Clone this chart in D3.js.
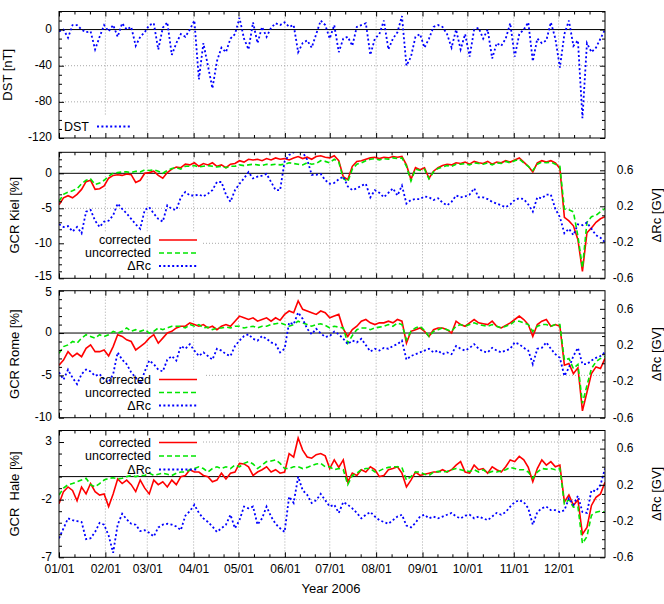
<!DOCTYPE html>
<html><head><meta charset="utf-8">
<script src="https://cdn.jsdelivr.net/npm/d3@7"></script>
<style>
body{margin:0;background:#fff;}
text{font-family:"Liberation Sans",Arial,Helvetica,sans-serif;fill:#000;}
</style></head><body>
<svg id="c" width="664" height="604"></svg>
<script>
// ---------------- data (one sample every ~3 days of 2006) ----------------
const monthTickLabels = ["01/01","02/01","03/01","04/01","05/01","06/01","07/01","08/01","09/01","10/01","11/01","12/01"];

const dstNT = [-2,0,-9,5,5,0,-3,-2,-22,-8,
 5,-2,5,-8,7,0,3,-18,-8,-3,
 5,7,-22,2,8,-28,-15,-5,-8,0,
 10,-55,-15,-40,-65,-35,-20,-25,-10,-5,
 13,-10,-22,8,-15,3,-8,2,7,5,
 8,3,5,-25,-15,-12,-20,-5,10,5,
 -10,5,-25,-10,-8,-18,3,5,7,-28,
 -10,-5,10,-22,-10,-3,15,-40,-30,-8,
 -5,-20,-10,3,5,3,-5,-20,0,-22,
 -5,-30,0,2,-10,0,-32,-15,-18,-10,
 7,-30,-5,0,8,-35,-10,-15,-12,8,
 -10,-42,-5,10,-18,-12,-98,-15,-25,-20,
 -10,0];

const kielCorrected = [-4.5,-3.5,-3.2,-3.5,-3.0,-2.3,-1.2,-1.0,-2.3,-2.2,
 -1.8,-0.7,-0.3,-0.2,-0.3,-0.1,-0.2,-1.3,-1.0,0,
 0.1,0.3,-0.3,-0.7,0.1,0.6,0.9,0.8,1.3,1.2,
 1.5,1.0,1.4,1.2,1.5,1.0,1.2,0.8,1.3,1.4,
 1.8,1.6,2.0,1.9,2.0,1.8,2.1,1.9,2.2,2.0,
 2.1,1.9,2.2,2.4,2.1,2.3,2.0,2.4,2.5,2.3,
 2.2,2.5,1.8,-0.5,-0.9,1.0,1.7,1.8,2.0,2.2,
 2.3,2.1,2.3,2.2,2.4,2.3,2.4,1.2,-0.9,0.8,
 0.5,0.8,-0.7,0.3,0.8,1.1,1.3,1.2,1.5,1.4,
 1.6,1.3,1.7,1.5,1.4,1.7,1.3,1.6,1.5,1.8,
 1.6,1.9,2.2,1.6,1.0,0.2,1.5,1.8,1.6,1.8,
 1.5,0.7,-6.3,-6.8,-7.5,-9.5,-14,-8.5,-7.8,-7.0,
 -6.5,-6.2];

const kielUncorrected = [-4.0,-3.0,-2.7,-2.5,-2.2,-1.5,-1.0,-0.8,-1.6,-1.4,
 -1.0,-0.4,0,0.1,0.2,0.2,0.1,0.3,0.2,0.5,
 0.4,0.5,0.3,0,0.4,0.7,0.8,0.6,1.0,1.0,
 1.1,0.9,1.0,1.1,1.0,0.9,1.0,0.8,1.0,1.0,
 1.2,1.1,1.2,1.3,1.2,1.1,1.3,1.2,1.3,1.2,
 1.3,1.5,1.4,1.3,1.2,1.5,1.3,1.4,1.8,1.7,
 1.5,2.0,1.6,-0.7,-1.2,0.6,1.3,1.5,1.8,2.0,
 2.1,1.9,2.1,2.0,2.2,2.1,2.2,1.0,-1.1,0.6,
 0.4,0.6,-0.8,0.2,0.7,0.9,1.1,1.0,1.3,1.3,
 1.4,1.2,1.5,1.4,1.3,1.5,1.2,1.5,1.4,1.7,
 1.5,1.8,2.0,1.5,1.0,0.4,1.3,1.6,1.5,1.6,
 1.3,1.0,-5.1,-5.2,-5.5,-9.0,-13.5,-7.0,-6.2,-6.0,
 -5.5,-5.0];

const kielDeltaRc = [0.0,-0.03,-0.02,-0.08,-0.03,-0.1,0.14,0.16,0.04,-0.03,
 0.03,0.04,0.1,0.23,0.17,0.12,0.06,0.0,-0.05,0.16,
 0.19,0.12,0.06,0.03,0.21,0.17,0.16,0.3,0.36,0.32,
 0.32,0.33,0.31,0.34,0.38,0.47,0.47,0.33,0.25,0.38,
 0.45,0.51,0.58,0.51,0.53,0.54,0.56,0.47,0.38,0.38,
 0.7,0.77,0.8,0.82,0.8,0.72,0.55,0.55,0.56,0.49,
 0.45,0.46,0.5,0.53,0.42,0.38,0.4,0.43,0.45,0.3,
 0.38,0.35,0.3,0.35,0.4,0.32,0.43,0.23,0.27,0.28,
 0.28,0.31,0.3,0.27,0.29,0.24,0.21,0.25,0.32,0.3,
 0.31,0.33,0.4,0.3,0.3,0.28,0.25,0.23,0.21,0.19,
 0.22,0.27,0.29,0.28,0.22,0.14,0.3,0.29,0.33,0.33,
 0.17,0.08,-0.1,-0.05,-0.12,0.0,-0.01,0.02,-0.05,-0.12,
 -0.15,-0.2];

const romeCorrected = [-3.8,-3.2,-2.2,-2.8,-2.4,-2.8,-1.8,-1.4,-2.2,-2.2,
 -2.0,-2.7,-1.6,-0.2,-0.4,-0.8,-1.0,-2.0,-1.6,-1.2,
 -0.6,-0.2,-1.2,-0.6,0,0.2,0.6,0.8,0.8,1.2,
 1.0,0.8,1.0,0.6,0.8,0.4,0.8,1.0,0.8,1.4,
 2.0,1.8,1.6,1.8,1.4,1.6,1.8,1.4,1.8,1.5,
 2.2,2.6,2.4,3.8,2.8,2.6,2.4,2.2,2.6,2.4,
 1.8,2.0,2.2,0.5,-0.4,0.4,0.8,1.4,1.6,1.2,
 1.0,1.2,1.2,1.4,1.2,1.6,1.4,-1.2,0.2,0.4,
 0.6,0.2,-0.4,0.4,0.6,0.6,0.4,0.0,1.4,1.0,
 0.8,1.2,1.6,1.2,1.1,1.0,1.4,0.8,0.6,0.9,
 1.2,1.6,2.0,1.6,1.0,-0.4,1.0,1.4,1.6,0.8,
 1.0,0.8,-3.8,-3.6,-4.8,-4.1,-9.2,-7.0,-4.8,-4.0,
 -4.2,-3.0];

const romeUncorrected = [-2.4,-1.6,-1.4,-1.0,-1.2,-0.6,-0.2,-0.4,-0.6,-0.2,
 -0.4,-0.2,0.2,0,0.2,0.6,0.2,0.4,0.2,0.4,
 0,0.2,0.6,0.4,0.6,0.8,0.8,0.8,0.6,1.0,
 0.8,1.0,0.6,0.7,0.4,0.6,0.6,0.7,0.6,0.8,
 0.8,0.6,0.7,0.8,0.6,0.8,0.8,1.0,1.1,1.2,
 1.0,0.8,1.0,1.4,1.2,1.0,0.8,1.0,1.1,0.9,
 0.6,0.8,0.7,0.6,-1.2,-0.3,0.4,0.6,0.6,0.4,
 0.6,0.7,0.8,1.0,0.8,1.2,1.0,-0.8,0.2,0.6,
 0.8,0.3,-0.4,0.2,0.4,0.6,0.4,0.2,0.8,1.0,
 0.8,1.0,1.2,1.0,0.9,0.8,1.0,0.8,0.6,0.8,
 1.0,1.4,1.4,1.2,1.0,0.2,0.8,1.0,1.0,0.8,
 1.0,1.0,-3.2,-3.0,-4.2,-3.7,-8.3,-6.2,-4.2,-3.4,
 -3.0,-2.8];

const romeDeltaRc = [-0.1,-0.18,-0.07,-0.16,-0.23,-0.12,-0.07,-0.09,-0.14,-0.12,
 -0.18,-0.21,-0.12,0.12,0.04,-0.01,-0.1,-0.16,-0.23,-0.09,
 0.03,-0.01,-0.07,-0.09,0.04,0.08,0.03,0.19,0.16,0.21,
 0.14,0.08,0.12,0.08,0.04,0.16,0.14,0.1,0.08,0.19,
 0.25,0.3,0.32,0.27,0.25,0.3,0.27,0.23,0.21,0.12,
 0.16,0.45,0.43,0.56,0.49,0.38,0.32,0.38,0.33,0.29,
 0.3,0.35,0.32,0.27,0.21,0.25,0.23,0.27,0.2,0.13,
 0.16,0.14,0.17,0.16,0.19,0.21,0.25,0.04,0.08,0.1,
 0.12,0.14,0.16,0.12,0.14,0.1,0.12,0.1,0.19,0.16,
 0.14,0.17,0.21,0.16,0.13,0.12,0.17,0.14,0.12,0.14,
 0.16,0.23,0.21,0.17,0.14,-0.01,0.16,0.17,0.23,0.16,
 0.1,0.06,-0.14,-0.05,0.08,0.17,-0.01,-0.01,0.03,0.06,
 0.08,0.12];

const haleCorrected = [-2.35,-1.3,-0.9,-1.2,-2.1,-0.9,-1.5,-0.6,-1.3,-1.6,
 -1.5,-2.6,-1.5,-0.2,-0.6,-0.3,-0.7,-1.3,-0.3,-1.0,
 -1.5,-0.3,-0.7,-0.45,-0.9,-0.3,-0.7,0,0.1,0.6,
 0.4,0.4,0.1,0,-0.45,-0.3,0.3,-0.2,0.3,0.4,
 1.15,1.1,0.85,0.1,0.4,0.6,0.85,0.4,0.6,0.3,
 0.4,2.0,1.7,3.35,2.3,1.7,1.6,1.9,2.0,1.8,
 0.7,1.45,0.8,1.45,-0.45,0.3,0.1,0.6,0.4,0.85,
 0.6,0.0,0.1,0.6,0.7,0.85,0.3,-0.9,-0.3,0.4,
 0.1,0.2,0.3,0.4,0.4,0.6,0.4,0.6,1.0,1.3,
 0.4,0.3,1.0,0.6,0.7,0.3,0.85,0.6,0.4,0.85,
 1.45,1.3,1.75,1.45,0.8,-0.45,0.7,1.45,1.0,1.3,
 0.85,1.0,-2.2,-1.6,-2.5,-2.0,-5.0,-4.4,-2.5,-1.8,
 -1.5,-0.5];

const haleUncorrected = [-1.6,-1.0,-0.7,-0.6,-0.45,-0.3,-0.15,-0.7,-0.9,-0.6,
 -0.3,-0.15,-0.1,-0.2,-0.15,0,0.1,0,0.1,0.1,
 0.3,0.1,0.2,0.3,0.2,0.1,0.3,0.4,0.4,0.6,
 0.7,0.85,0.7,0.4,0.7,0.85,0.7,0.85,0.7,1.0,
 0.85,1.15,1.3,1.1,0.7,1.0,1.3,1.35,1.45,1.15,
 0.7,0.7,0.85,0.85,0.7,0.8,0.95,1.1,1.15,0.85,
 0.85,0.6,0.7,0.6,-0.7,0.1,0.3,0.6,0.7,0.7,
 0.4,0.5,0.7,0.8,0.85,0.85,0.8,-0.3,0.0,0.4,
 0.4,0.2,0.1,0.4,0.45,0.4,0.45,0.6,0.7,0.6,
 0.5,0.45,0.6,0.4,0.6,0.3,0.45,0.4,0.5,0.6,
 0.8,0.7,0.6,0.6,0.4,-0.15,0.4,0.7,0.65,0.7,
 0.6,0.7,-2.35,-2.0,-2.65,-2.6,-5.8,-5.2,-3.35,-3.1,
 -3.0,-3.1];

const haleDeltaRc = [-0.39,-0.28,-0.17,-0.19,-0.2,-0.21,-0.4,-0.39,-0.32,-0.22,
 -0.24,-0.36,-0.55,-0.24,-0.12,-0.18,-0.23,-0.24,-0.31,-0.3,
 -0.33,-0.37,-0.27,-0.24,-0.23,-0.24,-0.26,-0.3,-0.14,-0.09,
 -0.02,-0.11,-0.17,-0.21,-0.26,-0.32,-0.28,-0.24,-0.13,-0.28,
 -0.19,-0.04,-0.06,-0.04,-0.24,-0.17,-0.04,-0.15,-0.23,-0.28,
 -0.32,0.07,0.0,0.29,0.14,0.09,0.0,0.03,0.1,0.03,
 -0.04,-0.02,-0.11,0.01,-0.02,-0.06,-0.11,-0.17,-0.13,-0.1,
 -0.15,-0.19,-0.21,-0.23,-0.19,-0.15,-0.13,-0.25,-0.27,-0.22,
 -0.15,-0.13,-0.17,-0.15,-0.17,-0.15,-0.13,-0.11,-0.15,-0.17,
 -0.14,-0.13,-0.17,-0.15,-0.17,-0.19,-0.15,-0.11,-0.13,-0.1,
 -0.04,0.01,0.03,0.01,-0.06,-0.24,-0.1,-0.06,-0.04,-0.08,
 -0.08,-0.1,-0.08,0.05,-0.02,0.08,-0.1,-0.11,0.14,0.13,
 0.2,0.38];

// ---------------- chart ----------------
const svg = d3.select("#c");
const L = 59, R = 605;
const t0 = Date.UTC(2006,0,1), t1 = Date.UTC(2007,0,1);
const x = d3.scaleUtc().domain([new Date(t0), new Date(t1)]).range([L, R]);
const STEP = 365/121;
const dates = dstNT.map((_, i) => new Date(t0 + i*STEP*86400000));
const monthStarts = d3.utcMonths(new Date(t0), new Date(t1));
const minorX = [];
monthStarts.forEach((m, i) => {
  const next = i < 11 ? +monthStarts[i+1] : t1;
  const len = next - (+m);
  minorX.push(new Date(+m + len/3), new Date(+m + 2*len/3));
});

const STY = {
  red:   {stroke:"#ff0000", width:1.6, dash:null},
  green: {stroke:"#00e600", width:1.6, dash:"5,3"},
  blue:  {stroke:"#0000ff", width:1.8, dash:"2,2.4"}
};

const panels = [
  {top:11.5, bottom:138, yDom:[-120,20], yMajor:[-120,-80,-40,0], yMinorStep:10, yGrid:[-80,-40],
   yLabel:"DST [nT]", yLabelX:11.5, y2:false,
   series:[{v:dstNT, y2:false, s:"blue"}],
   box:[59,116,140,138],
   legend:[{t:"DST", s:"blue", tx:64, ty:130.5, lx0:97, lx1:132, anchor:"start"}]},
  {top:152.3, bottom:278.3, yDom:[-15,3], yMajor:[-15,-10,-5,0], yMinorStep:1, yGrid:[-10,-5],
   yLabel:"GCR Kiel [%]", yLabelX:19, y2:true, bottomDy:"0.12em",
   series:[{v:kielCorrected,y2:false,s:"red"},{v:kielUncorrected,y2:false,s:"green"},{v:kielDeltaRc,y2:true,s:"blue"}],
   box:[59,232,203,278.3],
   legend:[{t:"corrected",s:"red",ty:244},{t:"uncorrected",s:"green",ty:257},{t:"\u0394Rc",s:"blue",ty:270}]},
  {top:290.7, bottom:417.7, yDom:[-10,5], yMajor:[-10,-5,0,5], yMinorStep:1, yGrid:[-5],
   yLabel:"GCR Rome [%]", yLabelX:19, y2:true, topDy:"0.42em",
   series:[{v:romeCorrected,y2:false,s:"red"},{v:romeUncorrected,y2:false,s:"green"},{v:romeDeltaRc,y2:true,s:"blue"}],
   box:[59,371,204,417.7],
   legend:[{t:"corrected",s:"red",ty:383.5},{t:"uncorrected",s:"green",ty:396.5},{t:"\u0394Rc",s:"blue",ty:409.5}]},
  {top:430.5, bottom:557.3, yDom:[-7,4], yMajor:[-7,-2,3], yMinorStep:1, yGrid:[-2,3],
   yLabel:"GCR  Hale [%]", yLabelX:19, y2:true, xLabels:true,
   series:[{v:haleCorrected,y2:false,s:"red"},{v:haleUncorrected,y2:false,s:"green"},{v:haleDeltaRc,y2:true,s:"blue"}],
   box:[59,430.5,203,477],
   legend:[{t:"corrected",s:"red",ty:446.5},{t:"uncorrected",s:"green",ty:460},{t:"\u0394Rc",s:"blue",ty:473.5}]}
];

function styleLine(sel, s){
  const st = STY[s];
  sel.attr("fill","none").attr("stroke",st.stroke).attr("stroke-width",st.width);
  if (st.dash) sel.attr("stroke-dasharray", st.dash);
  return sel;
}
function cleanAxis(g){ g.select(".domain").remove(); g.selectAll(".tick line").attr("stroke","#000"); g.selectAll("text").attr("font-size",12).attr("font-family",null).attr("fill","#000"); }

const defs = svg.append("defs");

panels.forEach((p, idx) => {
  const y = d3.scaleLinear().domain(p.yDom).range([p.bottom, p.top]);
  const y2 = d3.scaleLinear().domain([-0.6, 0.8]).range([p.bottom, p.top]);
  const g = svg.append("g");
  const clipId = "clip" + idx;
  defs.append("clipPath").attr("id", clipId).append("rect")
    .attr("x", L).attr("y", p.top).attr("width", R - L).attr("height", p.bottom - p.top);

  // grid
  g.selectAll(".vg").data(monthStarts.slice(1)).join("line")
    .attr("x1", d => x(d)).attr("x2", d => x(d)).attr("y1", p.top).attr("y2", p.bottom)
    .attr("stroke", "#a8a8a8").attr("stroke-width", 1).attr("stroke-dasharray", "1,2");
  g.selectAll(".hg").data(p.yGrid).join("line")
    .attr("x1", L).attr("x2", R).attr("y1", d => y(d)).attr("y2", d => y(d))
    .attr("stroke", "#a8a8a8").attr("stroke-width", 1).attr("stroke-dasharray", "1,2");

  // legend background
  g.append("rect").attr("x", p.box[0]).attr("y", p.box[1])
    .attr("width", p.box[2] - p.box[0]).attr("height", p.box[3] - p.box[1]).attr("fill", "#fff");

  // zero line
  g.append("line").attr("x1", L).attr("x2", R).attr("y1", y(0)).attr("y2", y(0))
    .attr("stroke", "#000").attr("stroke-width", 1);

  // series
  const dg = g.append("g").attr("clip-path", `url(#${clipId})`);
  p.series.forEach(sr => {
    const ys = sr.y2 ? y2 : y;
    const line = d3.line().x((d, i) => x(dates[i])).y(d => ys(d));
    styleLine(dg.append("path").attr("d", line(sr.v)), sr.s);
  });

  // legend
  p.legend.forEach(it => {
    const anchor = it.anchor || "end";
    const tx = it.tx !== undefined ? it.tx : 151;
    g.append("text").attr("x", tx).attr("y", it.ty).attr("text-anchor", anchor)
      .attr("font-size", 12.5).text(it.t);
    const lx0 = it.lx0 !== undefined ? it.lx0 : 159, lx1 = it.lx1 !== undefined ? it.lx1 : 197;
    styleLine(g.append("line").attr("x1", lx0).attr("x2", lx1).attr("y1", it.ty - 4).attr("y2", it.ty - 4), it.s);
  });

  // frame
  g.append("rect").attr("x", L).attr("y", p.top).attr("width", R - L).attr("height", p.bottom - p.top)
    .attr("fill", "none").attr("stroke", "#000").attr("stroke-width", 1);

  // y minor values
  const yMinor = d3.range(p.yDom[0], p.yDom[1] + 1e-9, p.yMinorStep).filter(v => !p.yMajor.includes(v));

  // left axis
  const la = g.append("g").attr("transform", `translate(${L},0)`)
    .call(d3.axisLeft(y).tickValues(p.yMajor).tickSize(-5).tickPadding(7).tickFormat(d => String(d)))
    .call(cleanAxis);
  la.selectAll("text").attr("dy", d => {
    if (d === p.yDom[1] && p.topDy) return p.topDy;
    if (d === p.yDom[0] && p.bottomDy) return p.bottomDy;
    return "0.24em";
  });
  g.append("g").attr("transform", `translate(${L},0)`)
    .call(d3.axisLeft(y).tickValues(yMinor).tickSize(-3).tickFormat(""))
    .call(cleanAxis);

  if (!p.y2) {
    g.append("g").attr("transform", `translate(${R},0)`)
      .call(d3.axisRight(y).tickValues(p.yMajor).tickSize(-5).tickFormat(""))
      .call(cleanAxis);
    g.append("g").attr("transform", `translate(${R},0)`)
      .call(d3.axisRight(y).tickValues(yMinor).tickSize(-3).tickFormat(""))
      .call(cleanAxis);
  } else {
    const y2Major = [-0.6, -0.2, 0.2, 0.6];
    const y2Minor = [-0.5,-0.4,-0.3,-0.1,0.0,0.1,0.3,0.4,0.5,0.7];
    const ax = g.append("g").attr("transform", `translate(${R},0)`)
      .call(d3.axisRight(y2).tickValues(y2Major).tickSize(-5).tickFormat(d => d.toFixed(1)))
      .call(cleanAxis);
    ax.selectAll("text").attr("text-anchor", "end").attr("x", 28.5).attr("dy", "0.28em");
    g.append("g").attr("transform", `translate(${R},0)`)
      .call(d3.axisRight(y2).tickValues(y2Minor).tickSize(-3).tickFormat(""))
      .call(cleanAxis);
    g.append("text").attr("transform", `translate(661,${(p.top + p.bottom)/2}) rotate(-90)`)
      .attr("text-anchor", "middle").attr("font-size", 13).text("\u0394Rc [GV]");
  }

  // x axes
  const bx = g.append("g").attr("transform", `translate(0,${p.bottom})`)
    .call(d3.axisBottom(x).tickValues(monthStarts).tickSize(-5)
      .tickFormat((d, i) => p.xLabels ? monthTickLabels[i] : ""))
    .call(cleanAxis);
  bx.selectAll("text").attr("y", 16).attr("dy", 0);
  g.append("g").attr("transform", `translate(0,${p.bottom})`)
    .call(d3.axisBottom(x).tickValues(minorX).tickSize(-3).tickFormat("")).call(cleanAxis);
  g.append("g").attr("transform", `translate(0,${p.top})`)
    .call(d3.axisTop(x).tickValues(monthStarts).tickSize(-5).tickFormat("")).call(cleanAxis);
  g.append("g").attr("transform", `translate(0,${p.top})`)
    .call(d3.axisTop(x).tickValues(minorX).tickSize(-3).tickFormat("")).call(cleanAxis);

  // y label
  g.append("text").attr("transform", `translate(${p.yLabelX},${(p.top + p.bottom)/2}) rotate(-90)`)
    .attr("text-anchor", "middle").attr("font-size", 13).style("white-space", "pre").text(p.yLabel);
});

svg.append("text").attr("x", 331).attr("y", 593).attr("text-anchor", "middle")
  .attr("font-size", 13).text("Year 2006");
</script>
</body></html>
